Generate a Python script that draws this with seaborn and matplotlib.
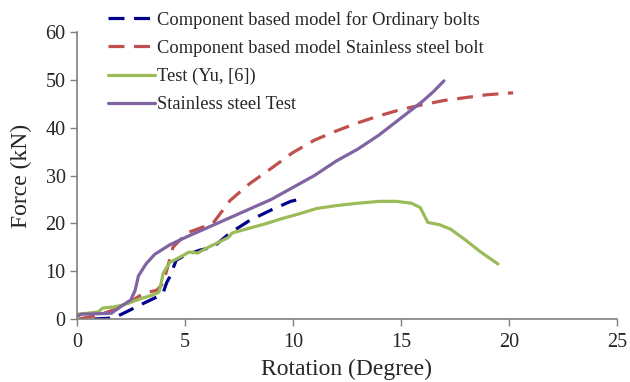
import numpy as np
import pandas as pd
import matplotlib
matplotlib.use("Agg")
import matplotlib.pyplot as plt
import seaborn as sns

# Component based model, ordinary bolts
ord_x = [0.8, 1.7, 2.3, 3.1, 3.7, 4.0, 4.15, 4.3, 4.6, 5.0, 5.7, 6.3, 7.1, 8.0, 9.0, 9.9, 10.3]
ord_y = [0.0, 0.2, 1.5, 3.3, 4.6, 5.5, 7.5, 8.8, 12.3, 13.3, 14.4, 15.0, 18.0, 20.6, 22.8, 24.6, 25.0]

# Component based model, stainless steel bolt
ss_x = [0.1, 1.0, 2.1, 3.1, 3.7, 4.0, 4.15, 4.45, 5.1, 6.3, 7.1, 8.0, 9.0, 10.0, 11.0, 12.0,
        13.0, 14.0, 15.0, 16.0, 17.0, 18.0, 19.0, 20.2]
ss_y = [0.0, 0.8, 2.5, 5.4, 6.0, 7.5, 10.0, 15.0, 18.0, 20.0, 24.8, 28.3, 31.5, 34.8, 37.4, 39.3,
        41.0, 42.5, 43.8, 44.8, 45.7, 46.3, 46.9, 47.3]

# Test (Yu, [6])
yu_x = [0.0, 0.5, 1.0, 1.2, 1.7, 2.2, 2.5, 3.0, 3.5, 3.8, 3.9, 4.0, 4.3, 4.8, 5.2, 5.6, 6.0, 7.0,
        7.2, 8.0, 8.8, 9.5, 10.3, 11.1, 12.0, 13.0, 14.0, 14.8, 15.5, 15.9, 16.25, 16.8, 17.3,
        18.0, 18.7, 19.5]
yu_y = [1.0, 1.2, 1.5, 2.3, 2.5, 3.0, 3.5, 4.3, 5.0, 5.6, 7.5, 9.6, 11.8, 13.0, 14.0, 13.8, 14.8,
        17.0, 18.0, 19.0, 20.0, 21.0, 22.0, 23.1, 23.7, 24.2, 24.6, 24.6, 24.2, 23.3, 20.2, 19.7,
        18.8, 16.5, 14.0, 11.5]

# Stainless steel test
sst_x = [0.0, 0.2, 1.0, 1.6, 2.0, 2.5, 2.7, 2.85, 3.2, 3.6, 4.3, 5.0, 6.0, 7.0, 7.5, 8.0, 9.0,
         10.0, 11.0, 12.0, 13.0, 14.0, 15.0, 16.0, 16.5, 17.0]
sst_y = [0.5, 1.0, 1.1, 1.2, 2.5, 4.0, 6.0, 9.0, 11.5, 13.5, 15.5, 17.0, 19.0, 21.0, 22.0, 23.0,
         25.0, 27.5, 30.0, 33.0, 35.5, 38.5, 42.0, 45.5, 47.5, 49.8]

labels = ["Component based model for Ordinary bolts",
          "Component based model Stainless steel bolt",
          "Test (Yu, [6])",
          "Stainless steel Test"]
colors = ["#00008C", "#C0504D", "#9BBB59", "#8064A2"]

sns.set_style("white")
plt.rcParams['font.family'] = ['Liberation Serif', 'DejaVu Serif']

fig = plt.figure(figsize=(6.3, 3.82), dpi=100)
ax = fig.add_axes([0.122, 0.165, 0.857, 0.751])

series = [(ord_x, ord_y), (ss_x, ss_y), (yu_x, yu_y), (sst_x, sst_y)]
for i, ((xs, ys), lab, col) in enumerate(zip(series, labels, colors)):
    df = pd.DataFrame({"x": xs, "y": ys})
    sns.lineplot(data=df, x="x", y="y", ax=ax, sort=False, estimator=None,
                 color=col, linewidth=2.3, label=lab)
    if i < 2:
        ax.lines[-1].set_dashes([5, 3])

ax.set_xlim(0, 25)
ax.set_ylim(0, 60)
ax.set_xticks([0, 5, 10, 15, 20, 25])
ax.set_yticks([0, 10, 20, 30, 40, 50, 60])
ax.set_xlabel("Rotation (Degree)", fontsize=17, labelpad=5)
ax.set_ylabel("Force (kN)", fontsize=17, labelpad=10)
ax.tick_params(axis="both", labelsize=14.5, direction="out", length=5, width=1,
               color="#808080", pad=3)
ax.tick_params(axis="x", pad=5)
for s in ["top", "right"]:
    ax.spines[s].set_visible(False)
for s in ["left", "bottom"]:
    ax.spines[s].set_color("#808080")
    ax.spines[s].set_linewidth(1.2)
ax.xaxis.set_ticks_position("bottom")
ax.yaxis.set_ticks_position("left")

ax.legend(loc="upper left", bbox_to_anchor=(0.171, 0.972), bbox_transform=fig.transFigure,
          frameon=False, fontsize=13.3, handlelength=2.55, handletextpad=0.1,
          labelspacing=0.6, borderaxespad=0.0, borderpad=0.0)

fig.savefig("out.png", dpi=100)
